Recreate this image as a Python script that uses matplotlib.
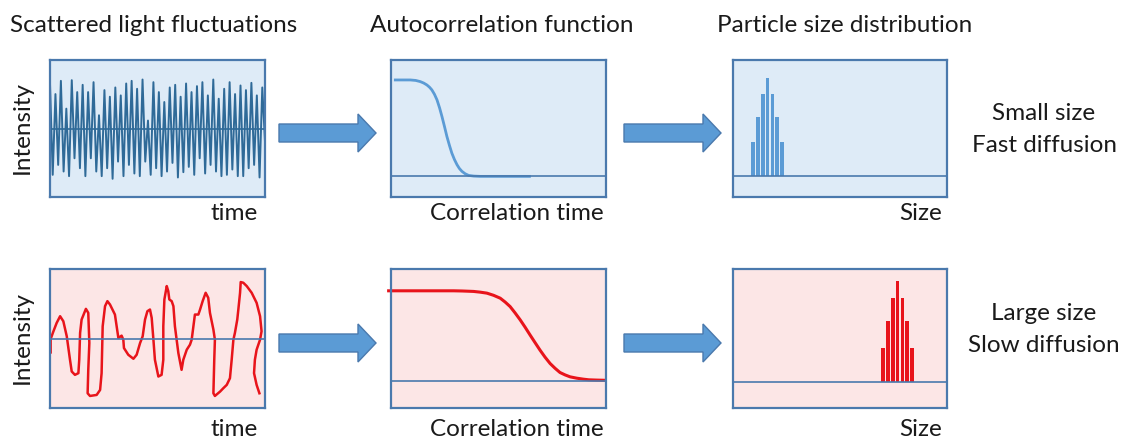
import numpy as np
import matplotlib
matplotlib.use("Agg")
import matplotlib.pyplot as plt
from matplotlib.patches import Polygon

plt.rcParams['font.family'] = ['Lato', 'DejaVu Sans']

# --- data ---
# fast fluctuations (small particles), alternating peaks/troughs
noise_fast = [0.68, -0.70, 0.52, -0.55, 0.72, -0.65, 0.30, -0.72, 0.73, -0.45,
              0.55, -0.60, 0.66, -0.72, 0.55, -0.45, 0.70, -0.65, 0.20, -0.72,
              0.58, -0.60, 0.48, -0.76, 0.62, -0.50, 0.50, -0.72, 0.68, -0.55,
              0.72, -0.68, 0.60, -0.72, 0.74, -0.50, 0.12, -0.70, 0.70, -0.60,
              0.55, -0.72, 0.40, -0.65, 0.62, -0.52, 0.66, -0.74, 0.48, -0.66,
              0.68, -0.58, 0.55, -0.70, 0.64, -0.45, 0.70, -0.68, 0.50, -0.55,
              0.74, -0.65, 0.45, -0.72, 0.60, -0.70, 0.70, -0.62, 0.52, -0.72,
              0.65, -0.72, 0.58, -0.60, 0.69, -0.55, 0.50, -0.74, 0.62, -0.20]

# slow fluctuations (large particles), hand drawn trace
slow_t = [0.3, 0.3, 1.6, 3.1, 4.7, 6.2, 7.8, 9.3, 10.1, 11.6, 13.2, 13.6, 14.0, 14.7,
          16.7, 17.8, 18.3, 17.8, 17.5, 18.6, 21.7, 23.3, 24.0, 24.5, 25.6, 26.7,
          27.9, 30.2, 31.0, 31.8, 33.3, 34.1, 34.4, 36.4, 38.8, 40.3, 41.9, 43.1,
          44.2, 45.3, 46.5, 47.3, 48.1, 48.8, 50.4, 51.9, 52.7, 52.7, 53.2, 54.3,
          55.0, 55.5, 56.6, 57.4, 58.1, 59.7, 61.2, 62.0, 63.6, 65.1, 65.9, 66.7,
          67.4, 69.0, 69.8, 71.0, 72.4, 73.6, 74.4, 76.0, 76.7, 76.4, 76.0, 76.7,
          79.1, 80.6, 82.2, 83.7, 84.5, 85.3, 86.0, 87.1, 87.6, 88.4, 88.7, 89.9,
          91.5, 93.8, 96.1, 97.7, 98.4, 97.7, 96.1, 95.3, 94.9, 96.1, 97.4]
slow_i = [-0.20, 0.0, 0.115, 0.24, 0.34, 0.265, 0.04, -0.31, -0.485, -0.535, -0.51,
          -0.31, 0.09, 0.29, 0.45, 0.39, -0.06, -0.46, -0.81, -0.85, -0.835, -0.76,
          -0.51, 0.19, 0.49, 0.565, 0.515, 0.365, 0.19, 0.015, 0.05, -0.01, -0.135,
          -0.235, -0.295, -0.235, -0.06, 0.04, 0.29, 0.415, 0.44, 0.315, -0.01,
          -0.31, -0.56, -0.535, -0.31, 0.19, 0.59, 0.79, 0.715, 0.59, 0.565, 0.49,
          0.19, -0.21, -0.46, -0.31, -0.16, -0.085, -0.01, 0.19, 0.365, 0.365,
          0.44, 0.565, 0.69, 0.615, 0.39, 0.14, -0.01, -0.31, -0.81, -0.85, -0.785,
          -0.735, -0.685, -0.585, -0.31, -0.01, 0.09, 0.29, 0.44, 0.69, 0.85, 0.84,
          0.79, 0.69, 0.54, 0.34, 0.115, -0.01, -0.16, -0.31, -0.51, -0.685, -0.81]

# autocorrelation curves
acf_fast_t = [2.0, 9.0, 11.5, 13.6, 15.2, 16.7, 17.9, 19.0, 20.2, 21.4, 22.6, 23.7,
              24.9, 26.0, 27.2, 28.3, 29.5, 30.7, 31.8, 33.0, 34.5, 36.1, 38.5,
              41.5, 52.3, 64.4]
acf_fast_g = [1.0, 1.0, 0.995, 0.983, 0.968, 0.948, 0.925, 0.897, 0.852, 0.793,
              0.710, 0.621, 0.515, 0.414, 0.320, 0.241, 0.175, 0.121, 0.082, 0.052,
              0.027, 0.010, 0.003, 0.0, 0.0, 0.0]
acf_slow_t = [-1.1, 13.6, 29.1, 33.0, 38.4, 41.5, 44.6, 47.7, 50.8, 53.1, 55.4, 57.7,
              60.1, 62.4, 64.7, 67.0, 69.3, 71.6, 74.0, 76.3, 78.6, 81.0, 83.3,
              86.4, 89.5, 92.0, 95.5, 98.8]
acf_slow_g = [1.0, 1.0, 1.0, 0.998, 0.993, 0.985, 0.974, 0.950, 0.918, 0.875, 0.825,
              0.755, 0.677, 0.595, 0.509, 0.425, 0.342, 0.265, 0.193, 0.140, 0.093,
              0.066, 0.045, 0.030, 0.019, 0.012, 0.009, 0.007]

# size distributions
size_small = [9.5, 11.6, 13.9, 16.1, 18.5, 20.7, 23.0]
count_small = [0.35, 0.61, 0.84, 1.0, 0.84, 0.61, 0.35]
size_large = [70.2, 72.5, 74.7, 76.9, 79.2, 81.3, 83.7]
count_large = [0.34, 0.61, 0.83, 1.0, 0.83, 0.61, 0.34]

titles = ["Scattered light fluctuations", "Autocorrelation function", "Particle size distribution"]
xlabels = ["time", "Correlation time", "Size"]
row_notes = [("Small size", "Fast diffusion"), ("Large size", "Slow diffusion")]

# --- styles ---
W, H = 1128, 441
blue_bg, pink_bg = "#deebf7", "#fce6e6"
edge = "#4a79ad"
blue_line, blue_dark = "#5b9bd5", "#2f6a98"
red = "#e8141b"
txt = "#1a1a1a"

fig = plt.figure(figsize=(W / 100, H / 100), dpi=100)


def panel(x0, y0, x1, y1, bg):
    ax = fig.add_axes([x0 / W, 1 - y1 / H, (x1 - x0) / W, (y1 - y0) / H])
    ax.set_facecolor(bg)
    ax.set_xticks([])
    ax.set_yticks([])
    for s in ax.spines.values():
        s.set_color(edge)
        s.set_linewidth(1.6)
    ax.set_xlim(0, 100)
    return ax


# top row
ax = panel(50, 60, 265, 197, blue_bg)
ax.plot(np.arange(len(noise_fast)) * 100 / (len(noise_fast) - 1), noise_fast, color=blue_dark, lw=1.4)
ax.axhline(0, color=blue_dark, lw=1.2)
ax.set_ylim(-1.035, 1.035)

ax = panel(391, 60, 606, 197, blue_bg)
ax.plot(acf_fast_t, acf_fast_g, color=blue_line, lw=2)
ax.axhline(0, color=edge, lw=1.2)
ax.set_ylim(-0.214, 1.207)

ax = panel(733, 60, 947, 197, blue_bg)
ax.bar(size_small, count_small, width=1.75, color=blue_line)
ax.axhline(0, color=edge, lw=1.2)
ax.set_ylim(-0.21, 1.186)

# bottom row
ax = panel(50, 269, 265, 408, pink_bg)
ax.plot(slow_t, slow_i, color=red, lw=1.8)
ax.axhline(0, color=edge, lw=1.2)
ax.set_ylim(-1.03, 1.045)

ax = panel(391, 269, 606, 408, pink_bg)
ax.plot(acf_slow_t, acf_slow_g, color=red, lw=2.2, clip_on=False)
ax.axhline(0, color=edge, lw=1.2)
ax.set_ylim(-0.301, 1.242)

ax = panel(733, 269, 947, 408, pink_bg)
ax.bar(size_large, count_large, width=1.75, color=red)
ax.axhline(0, color=edge, lw=1.2)
ax.set_ylim(-0.26, 1.123)

# overlay in pixel coordinates for arrows and text
ov = fig.add_axes([0, 0, 1, 1], zorder=-1)
ov.set_xlim(0, W)
ov.set_ylim(H, 0)
ov.axis("off")


def arrow(x0, x1, yc):
    pts = [(x0, yc - 9), (x1 - 18, yc - 9), (x1 - 18, yc - 19), (x1, yc),
           (x1 - 18, yc + 19), (x1 - 18, yc + 9), (x0, yc + 9)]
    ov.add_patch(Polygon(pts, closed=True, facecolor=blue_line, edgecolor=edge, lw=1))


for yc in (133, 343):
    arrow(279, 376, yc)
    arrow(624, 721, yc)

fs = 17.5
for x, t in zip([10, 370, 717], titles):
    ov.text(x, 25, t, fontsize=fs, color=txt, ha="left", va="center")

for y in (213, 430):
    for x, t in zip([258, 604, 942], xlabels):
        ov.text(x, y, t, fontsize=fs, color=txt, ha="right", va="center")

for y in (128, 338):
    ov.text(22, y, "Intensity", fontsize=fs, color=txt, rotation=90, ha="center", va="center")

for (a, b), (ya, yb) in zip(row_notes, [(113, 145), (314, 346)]):
    ov.text(1044, ya, a, fontsize=fs, color=txt, ha="center", va="center")
    ov.text(1044, yb, b, fontsize=fs, color=txt, ha="center", va="center")

fig.savefig("out.png", dpi=100, facecolor="white")
